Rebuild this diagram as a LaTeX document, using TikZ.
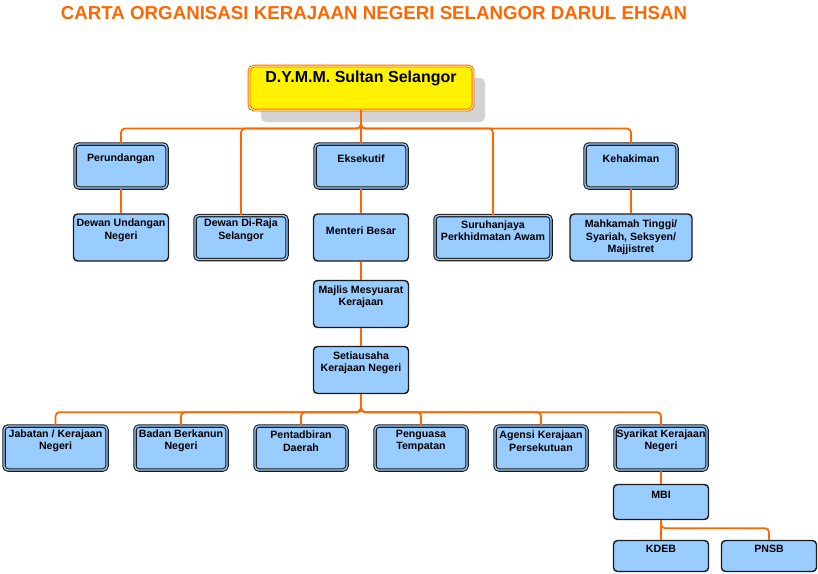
\documentclass[tikz,border=0pt]{standalone}
\usepackage{fontspec}
\setmainfont{Liberation Sans}
\usetikzlibrary{shadows}
\definecolor{orgorange}{HTML}{FF6600}
\definecolor{boxfill}{HTML}{99CCFF}
\definecolor{boxline}{HTML}{1A1A1A}
\definecolor{shadowgray}{HTML}{D3D3D3}
\begin{document}
\begin{tikzpicture}[x=1pt, y=-1pt,
        box/.style = {draw=boxline, fill=boxfill, rounded corners=4pt, line width=1.4pt, minimum width=95pt, minimum height=47pt, inner sep=0pt},
        dbox/.style = {box, line width=1.1pt, double=boxfill, double distance=1.3pt, minimum width=92pt, minimum height=44pt},
        txt/.style = {align=center, inner sep=0pt, font=\bfseries\fontsize{10.6}{12.5}\selectfont},
        link/.style = {draw=orgorange, line width=1.8pt, rounded corners=4pt},
        main/.style = {link, line width=2.6pt}]
        \useasboundingbox (0,0) rectangle (818,573);

        \node[text=orgorange, inner sep=0pt, font=\bfseries\fontsize{18.7}{22}\selectfont] (title) at (374,13) {CARTA ORGANISASI KERAJAAN NEGERI SELANGOR DARUL EHSAN};

        \node[draw=orgorange, line width=0.9pt, double=yellow!35, double distance=1pt, fill=yellow, rounded corners=5pt, minimum width=224pt, minimum height=44pt, drop shadow={shadow xshift=12pt, shadow yshift=-12pt, fill=shadowgray, opacity=1}] (sultan) at (361,88) {};
        \node[txt, font=\bfseries\fontsize{16}{19}\selectfont] (sultan-t) at ([yshift=10pt]sultan.center) {D.Y.M.M. Sultan Selangor};

        \node[dbox] (per) at (121,166) {};
        \node[dbox] (eks) at (361,166) {};
        \node[dbox] (keh) at (631,166) {};

        \node[box] (dun) at (121,237.5) {};
        \node[dbox] (dwr) at (241,237.5) {};
        \node[box] (mb) at (361,237.5) {};
        \node[dbox, minimum width=116pt] (spa) at (493,237.5) {};
        \node[box, minimum width=122pt] (mah) at (631,237.5) {};

        \node[box] (mmk) at (361,304) {};
        \node[box] (sukn) at (361,370) {};

        \node[dbox, minimum width=103pt] (jab) at (55.5,448) {};
        \node[dbox] (bbn) at (181,448) {};
        \node[dbox] (pd) at (301,448) {};
        \node[dbox] (pt) at (421,448) {};
        \node[dbox] (akp) at (541,448) {};
        \node[dbox] (skn) at (661,448) {};

        \node[box, minimum height=35pt] (mbi) at (661,502) {};
        \node[box, minimum height=31pt] (kdeb) at (661,556) {};
        \node[box, minimum height=31pt] (pnsb) at (769,556) {};

        \node[txt] (per-t) at ([yshift=7pt]per.center) {Perundangan};
        \node[txt] (eks-t) at ([yshift=7pt]eks.center) {Eksekutif};
        \node[txt] (keh-t) at ([yshift=7pt]keh.center) {Kehakiman};
        \node[txt] (dun-t) at ([yshift=7pt]dun.center) {Dewan Undangan\\Negeri};
        \node[txt] (dwr-t) at ([yshift=7pt]dwr.center) {Dewan Di-Raja\\Selangor};
        \node[txt] (mb-t) at ([yshift=7pt]mb.center) {Menteri Besar};
        \node[txt] (spa-t) at ([yshift=7pt]spa.center) {Suruhanjaya\\Perkhidmatan Awam};
        \node[txt] (mah-t) at (mah.center) {Mahkamah Tinggi/\\Syariah, Seksyen/\\Majjistret};
        \node[txt] (mmk-t) at ([yshift=7pt]mmk.center) {Majlis Mesyuarat\\Kerajaan};
        \node[txt] (sukn-t) at ([yshift=7pt]sukn.center) {Setiausaha\\Kerajaan Negeri};
        \node[txt] (jab-t) at ([yshift=7pt]jab.center) {Jabatan / Kerajaan\\Negeri};
        \node[txt] (bbn-t) at ([yshift=7pt]bbn.center) {Badan Berkanun\\Negeri};
        \node[txt] (pd-t) at ([yshift=7pt]pd.center) {Pentadbiran\\Daerah};
        \node[txt] (pt-t) at ([yshift=7pt]pt.center) {Penguasa\\Tempatan};
        \node[txt] (akp-t) at ([yshift=7pt]akp.center) {Agensi Kerajaan\\Persekutuan};
        \node[txt] (skn-t) at ([yshift=7pt]skn.center) {Syarikat Kerajaan\\Negeri};
        \node[txt] (mbi-t) at ([yshift=7pt]mbi.center) {MBI};
        \node[txt] (kdeb-t) at ([yshift=7pt]kdeb.center) {KDEB};
        \node[txt] (pnsb-t) at ([yshift=7pt]pnsb.center) {PNSB};

        \draw[link] (sultan.south) -- ++(0,18) -| (per.north);
        \draw[link] (sultan.south) -- ++(0,18) -| (dwr.north);
        \draw[link] (sultan.south) -- ++(0,18) -| (spa.north);
        \draw[link] (sultan.south) -- ++(0,18) -| (keh.north);
        \draw[link] (per) -- (dun);
        \draw[link] (keh) -- (mah);

        \draw[main] (sultan) -- (eks);
        \draw[main] (eks) -- (mb);
        \draw[main] (mb) -- (mmk);
        \draw[main] (mmk) -- (sukn);

        \draw[link] (sukn.south) -- ++(0,18) -| (jab.north);
        \draw[link] (sukn.south) -- ++(0,18) -| (bbn.north);
        \draw[link] (sukn.south) -- ++(0,18) -| (pd.north);
        \draw[link] (sukn.south) -- ++(0,18) -| (pt.north);
        \draw[link] (sukn.south) -- ++(0,18) -| (akp.north);
        \draw[link] (sukn.south) -- ++(0,18) -| (skn.north);

        \draw[link] (skn) -- (mbi);
        \draw[link] (mbi) -- (kdeb);
        \draw[link] (mbi.south) -- ++(0,8) -| (pnsb.north);
    \end{tikzpicture}
\end{document}
